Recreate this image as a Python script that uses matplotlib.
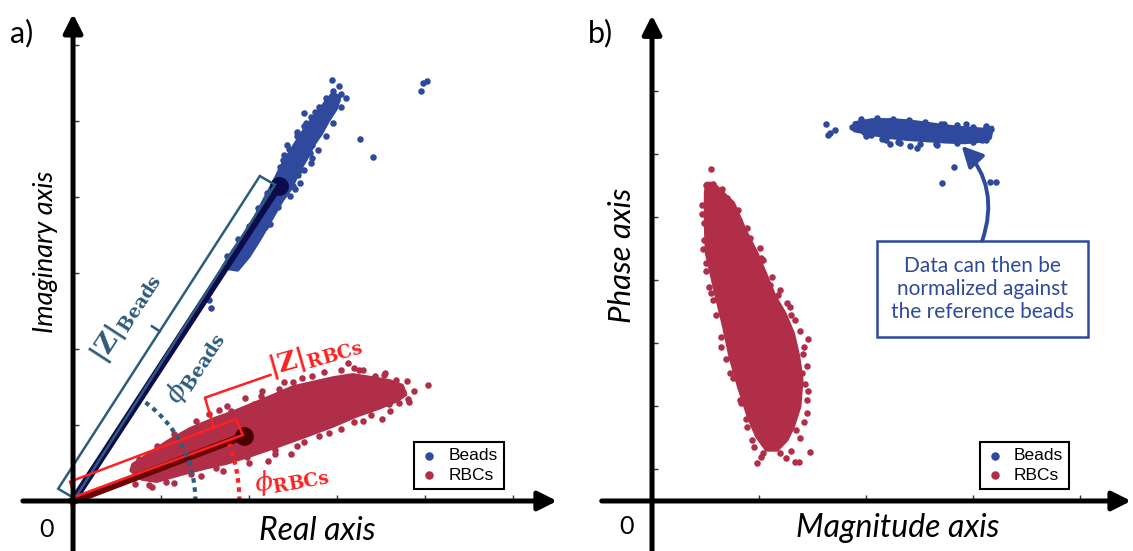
import numpy as np
import matplotlib
matplotlib.use('Agg')
import matplotlib.pyplot as plt
from matplotlib.patches import Polygon, Rectangle

# 颜色
BLUE = '#2F4A9C'
RED = '#B02E48'
NAVY = '#0B0B4E'
MAROON = '#6A0606'
TEAL = '#2D5C7C'
BRIGHT = '#FF2020'

# ---------------- a) 复平面 ----------------
# Beads 密集带轮廓
a_bead_core_x = [1.70, 1.82, 1.97, 2.08, 2.17, 2.29, 2.37, 2.44, 2.53, 2.62, 2.71, 2.79, 2.87, 2.95,
                 3.03, 2.99, 2.90, 2.82, 2.74, 2.65, 2.56, 2.48, 2.38, 2.26, 2.13, 2.00, 1.87]
a_bead_core_y = [3.07, 3.30, 3.54, 3.76, 3.96, 4.22, 4.41, 4.54, 4.71, 4.87, 5.01, 5.12, 5.25, 5.36,
                 5.32, 5.16, 5.00, 4.83, 4.70, 4.50, 4.32, 4.12, 3.96, 3.72, 3.46, 3.22, 3.04]
# Beads 散点
a_bead_x = [2.94, 3.02, 3.05, 3.00, 2.90, 2.62, 2.81, 2.73, 2.84, 2.75, 2.43, 2.71, 2.69, 2.71, 2.39,
            2.58, 2.56, 2.49, 2.58, 2.52, 2.47, 2.33, 2.24, 2.18, 1.97, 1.84, 3.26, 3.41, 3.98, 4.02,
            3.96, 2.32, 2.09, 2.16, 1.54, 1.57, 1.94, 2.16, 2.22, 1.96, 2.95, 2.88, 2.80, 2.70, 2.62,
            2.55, 2.47, 2.40, 2.35, 2.45, 2.55, 2.65, 2.75, 2.50, 2.62, 2.70, 2.78, 2.88, 2.95, 3.05,
            3.10, 1.75, 1.88, 2.00, 2.10, 2.20]
a_bead_y = [5.54, 5.46, 5.36, 5.28, 5.23, 5.10, 5.10, 5.02, 4.95, 4.88, 4.68, 4.68, 4.58, 4.51, 4.49,
            4.36, 4.29, 4.27, 4.18, 4.11, 4.01, 3.87, 3.65, 3.61, 3.35, 3.24, 4.76, 4.52, 5.50, 5.52,
            5.39, 3.92, 3.74, 3.81, 2.65, 2.54, 3.34, 3.64, 3.65, 3.39, 5.40, 5.30, 5.18, 5.05, 4.93,
            4.80, 4.62, 4.55, 4.40, 4.63, 4.85, 4.98, 5.12, 4.15, 4.35, 4.45, 4.62, 4.80, 4.98, 5.18,
            5.30, 3.22, 3.45, 3.62, 3.85, 4.05]
# RBCs 密集区轮廓
a_rbc_core_x = [0.66, 0.78, 0.95, 1.22, 1.52, 1.75, 2.05, 2.35, 2.66, 2.96, 3.22, 3.47, 3.68, 3.78,
                3.74, 3.60, 3.40, 3.18, 2.96, 2.73, 2.50, 2.28, 2.05, 1.82, 1.60, 1.33, 1.07, 0.84, 0.68]
a_rbc_core_y = [0.40, 0.29, 0.26, 0.35, 0.44, 0.50, 0.61, 0.73, 0.86, 0.99, 1.12, 1.22, 1.32, 1.40,
                1.52, 1.58, 1.62, 1.66, 1.62, 1.56, 1.50, 1.39, 1.28, 1.17, 1.08, 0.95, 0.78, 0.60, 0.48]
# RBCs 散点
a_rbc_x = [3.13, 3.25, 4.03, 3.81, 3.71, 3.75, 3.67, 3.53, 3.43, 2.99, 2.81, 2.71, 2.50, 2.34, 2.24,
           2.06, 1.80, 1.66, 1.42, 1.26, 1.10, 0.90, 0.76, 0.68, 0.86, 1.06, 1.34, 1.62, 1.98, 2.30,
           2.63, 2.91, 3.19, 3.39, 3.59, 3.19, 3.35, 2.93, 2.69, 2.46, 2.14, 2.48, 2.22, 3.51,
           0.75, 0.95, 1.15, 1.40, 1.55, 1.75, 1.95, 2.15, 2.40, 2.60, 2.85, 3.05, 3.30, 3.55, 3.80,
           3.88, 0.70, 0.90, 1.15, 1.45, 1.70, 2.00, 2.30, 2.55, 2.80, 3.05, 3.30, 3.60, 3.82]
a_rbc_y = [1.82, 1.73, 1.52, 1.34, 1.29, 1.43, 1.59, 1.66, 1.64, 1.61, 1.57, 1.64, 1.57, 1.48, 1.34,
           1.27, 1.18, 1.20, 0.95, 0.81, 0.69, 0.53, 0.42, 0.30, 0.21, 0.25, 0.35, 0.44, 0.58, 0.67,
           0.78, 0.90, 1.04, 1.13, 1.27, 1.75, 1.54, 1.52, 1.43, 1.45, 1.38, 0.62, 0.53, 1.08,
           0.55, 0.72, 0.88, 1.05, 1.15, 1.25, 1.36, 1.45, 1.56, 1.62, 1.70, 1.73, 1.72, 1.68, 1.58,
           1.45, 0.22, 0.18, 0.24, 0.33, 0.40, 0.50, 0.62, 0.72, 0.85, 0.95, 1.05, 1.18, 1.30]

# 均值点
bead_mean = (2.34, 4.15)
rbc_mean = (1.94, 0.855)

# |Z| 矩形框及括号
bead_box_x = [-0.169, 0.020, 2.295, 2.123]
bead_box_y = [0.161, 0.032, 4.161, 4.276]
bead_tick_x = [0.985, 0.896]
bead_tick_y = [2.233, 2.300]
rbc_box_x = [-0.034, 0.023, 1.928, 1.852]
rbc_box_y = [0.254, 0.057, 0.868, 1.079]
rbc_tick_x = [1.600, 1.499, 2.243]
rbc_tick_y = [0.968, 1.359, 1.659]

# 相位角圆弧 (半径以 x 单位计, 角度单位 度)
bead_arc_r, bead_arc_deg = 1.39, 55
rbc_arc_r, rbc_arc_deg = 1.89, 20

# ---------------- b) 幅值-相位 ----------------
b_bead_core_x = [1.89, 2.06, 2.23, 2.40, 2.58, 2.75, 2.92, 3.09, 3.18,
                 3.16, 3.06, 2.92, 2.75, 2.58, 2.40, 2.23, 2.06, 1.89]
b_bead_core_y = [6.00, 6.05, 6.05, 6.03, 5.99, 5.95, 5.92, 5.90, 5.93,
                 5.76, 5.71, 5.69, 5.70, 5.72, 5.74, 5.77, 5.82, 5.88]
b_bead_x = [1.63, 1.71, 1.64, 1.66, 1.87, 1.98, 2.05, 2.19, 2.22, 2.32, 2.41, 2.48, 2.66, 2.73, 2.93,
            3.17, 3.08, 2.97, 2.82, 2.71, 3.16, 3.21, 1.94, 2.13, 2.32, 2.44, 2.57, 2.75, 2.88, 3.00,
            3.07, 1.95, 2.10, 2.25, 2.40, 2.55, 2.70, 2.85, 3.00, 3.12, 2.00, 2.15, 2.30, 2.50, 2.65,
            2.85, 3.00, 3.12]
b_bead_y = [5.98, 5.89, 5.81, 5.84, 5.94, 5.86, 5.81, 5.73, 5.67, 5.69, 5.64, 5.61, 5.65, 5.98, 5.98,
            5.90, 5.73, 5.78, 5.30, 5.04, 5.07, 5.07, 5.95, 5.97, 5.95, 5.86, 5.84, 5.78, 5.76, 5.81,
            5.84, 6.07, 6.08, 6.07, 6.05, 6.02, 5.98, 5.96, 5.93, 5.95, 5.80, 5.74, 5.70, 5.66, 5.67,
            5.68, 5.70, 5.73]
b_rbc_core_x = [0.51, 0.50, 0.50, 0.51, 0.56, 0.61, 0.67, 0.73, 0.81, 0.90, 0.98, 1.07, 1.17,
                1.26, 1.32, 1.38, 1.40, 1.37, 1.32, 1.24, 1.15, 1.06, 0.98, 0.87, 0.76, 0.57]
b_rbc_core_y = [5.04, 4.88, 4.35, 3.93, 3.56, 3.19, 2.77, 2.29, 1.81, 1.34, 1.02, 0.81, 0.81,
                0.97, 1.18, 1.50, 1.92, 2.29, 2.66, 2.98, 3.24, 3.61, 3.93, 4.30, 4.73, 5.04]
b_rbc_x = [0.55, 0.50, 0.57, 0.49, 0.49, 0.50, 0.70, 0.81, 0.89, 1.01, 1.04, 1.10, 1.18, 1.26, 1.29,
           1.34, 1.46, 1.41, 1.40, 1.46, 1.45, 1.35, 1.48, 1.34, 1.37, 0.98, 1.04, 1.20, 0.93, 0.89,
           0.82, 0.73, 0.64, 0.57, 0.53, 1.29, 1.32, 1.23, 1.10,
           0.47, 0.47, 0.48, 0.50, 0.55, 0.60, 0.64, 0.69, 0.76, 0.83, 0.88, 0.95, 1.02,
           0.65, 0.80, 0.92, 1.02, 1.12, 1.20, 1.30, 1.38, 1.42, 1.45, 1.43, 1.45, 1.42, 1.38, 1.30, 1.25]
b_rbc_y = [5.27, 5.02, 5.03, 4.41, 4.14, 3.77, 4.81, 4.46, 4.33, 4.01, 3.83, 3.43, 3.27, 3.14, 3.08,
           2.87, 2.57, 2.34, 2.03, 1.74, 1.39, 1.13, 0.78, 0.62, 0.62, 0.61, 0.76, 0.76, 0.97, 1.18,
           1.60, 2.03, 2.45, 3.19, 3.40, 2.03, 1.71, 1.29, 0.97,
           4.70, 4.55, 4.00, 3.65, 3.30, 2.95, 2.60, 2.25, 1.95, 1.55, 1.30, 0.85, 0.70,
           4.95, 4.62, 4.18, 3.85, 3.55, 3.35, 2.95, 2.70, 2.45, 2.15, 1.85, 1.60, 1.25, 1.00, 0.80, 0.68]

# 注释框 (x0, y0, x1, y1) 及箭头
note_box = (2.10, 2.60, 4.07, 4.13)
note_arrow_start = (3.086, 4.13)
note_arrow_end = (2.893, 5.638)
note_text = 'Data can then be\nnormalized against\nthe reference beads'

plt.rcParams['font.family'] = ['Lato', 'DejaVu Sans']
plt.rcParams['mathtext.fontset'] = 'dejavuserif'

fig = plt.figure(figsize=(11.33, 5.51), dpi=100)
ax_a = fig.add_axes([0, 0, 560 / 1133, 1])
ax_b = fig.add_axes([560 / 1133, 0, 573 / 1133, 1])

ax_a.set_xlim(-0.830, 5.534)
ax_a.set_ylim(-0.658, 6.592)
ax_b.set_xlim(-0.860, 4.495)
ax_b.set_ylim(-0.794, 7.952)


def setup_axis(ax, xticks, yticks, xend, yend):
    for s in ax.spines.values():
        s.set_visible(False)
    ax.spines['left'].set_position(('data', 0))
    ax.spines['bottom'].set_position(('data', 0))
    ax.set_xticks(xticks)
    ax.set_yticks(yticks)
    ax.set_xticklabels([])
    ax.set_yticklabels([])
    ax.tick_params(direction='in', length=4, width=1, color='#333333')
    ax.patch.set_alpha(0)
    arrow = dict(arrowstyle='-|>,head_length=0.75,head_width=0.38', lw=3.6, color='black',
                 shrinkA=0, shrinkB=0, mutation_scale=15)
    ax.annotate('', xy=(xend[1], 0), xytext=(xend[0], 0), arrowprops=arrow,
                annotation_clip=False, zorder=6)
    ax.annotate('', xy=(0, yend[1]), xytext=(0, yend[0]), arrowprops=arrow,
                annotation_clip=False, zorder=6)


setup_axis(ax_a, [1, 2, 3, 4, 5], [1, 2, 3, 4, 5, 6], (-0.57, 5.50), (-0.9, 6.41))
setup_axis(ax_b, [1, 2, 3, 4], [0.5, 1.5, 2.5, 3.5, 4.5, 5.5, 6.5], (-0.47, 4.477), (-0.9, 7.71))

dot = 22


def cloud(ax, core_x, core_y, xs, ys, color, label):
    ax.add_patch(Polygon(np.column_stack([core_x, core_y]), closed=True,
                         fc=color, ec=color, lw=2.5, joinstyle='round', zorder=2))
    ax.scatter(xs, ys, s=dot, color=color, lw=0, zorder=2, label=label)


# ---- a) ----
cloud(ax_a, a_bead_core_x, a_bead_core_y, a_bead_x, a_bead_y, BLUE, 'Beads')
cloud(ax_a, a_rbc_core_x, a_rbc_core_y, a_rbc_x, a_rbc_y, RED, 'RBCs')

ax_a.plot([0, bead_mean[0]], [0, bead_mean[1]], color=NAVY, lw=5.5, zorder=3)
ax_a.plot(*bead_mean, 'o', ms=12.5, color=NAVY, zorder=3)
ax_a.plot([0, rbc_mean[0]], [0, rbc_mean[1]], color=MAROON, lw=5.5, zorder=3)
ax_a.plot(*rbc_mean, 'o', ms=12.5, color='#4A0000', zorder=3)

ax_a.add_patch(Polygon(np.column_stack([bead_box_x, bead_box_y]), closed=True,
                       fill=False, ec=TEAL, lw=1.8, zorder=4))
ax_a.plot(bead_tick_x, bead_tick_y, color=TEAL, lw=1.8, zorder=4)
ax_a.add_patch(Polygon(np.column_stack([rbc_box_x, rbc_box_y]), closed=True,
                       fill=False, ec=BRIGHT, lw=1.8, zorder=4))
ax_a.plot(rbc_tick_x, rbc_tick_y, color=BRIGHT, lw=1.8, zorder=4)

# 圆弧: 像素空间中为圆
p0 = ax_a.transData.transform((0, 0))
kx = ax_a.transData.transform((1, 0))[0] - p0[0]
ky = ax_a.transData.transform((0, 1))[1] - p0[1]
for r, deg, c in [(bead_arc_r, bead_arc_deg, TEAL), (rbc_arc_r, rbc_arc_deg, BRIGHT)]:
    t = np.radians(np.linspace(0, deg, 80))
    ax_a.plot(r * np.cos(t), r * kx / ky * np.sin(t), color=c, lw=3,
              dashes=(1.1, 1.1), zorder=4)

lab = dict(fontsize=19, ha='center', va='center', rotation_mode='anchor', zorder=5)
ax_a.text(0.595, 2.42, r'$\mathbf{|Z|}_{\mathbf{Beads}}$', color=TEAL, rotation=57, **lab)
ax_a.text(1.38, 1.77, r'$\phi_{\mathbf{Beads}}$', color=TEAL, rotation=57, **lab)
ax_a.text(2.75, 1.91, r'$\mathbf{|Z|}_{\mathbf{RBCs}}$', color=BRIGHT, rotation=16, **lab)
ax_a.text(2.48, 0.30, r'$\phi_{\mathbf{RBCs}}$', color=BRIGHT, rotation=10, **lab)

ax_a.text(-0.30, -0.37, '0', fontsize=18, ha='center', va='center')
ax_a.text(2.78, -0.40, 'Real axis', fontsize=23, style='italic', ha='center', va='center')
ax_a.text(-0.31, 3.28, 'Imaginary axis', fontsize=19.5, style='italic', rotation=90,
          ha='center', va='center')
ax_a.text(0.038, 0.94, 'a)', transform=ax_a.transAxes, fontsize=22, ha='center', va='center')

# ---- b) ----
cloud(ax_b, b_bead_core_x, b_bead_core_y, b_bead_x, b_bead_y, BLUE, 'Beads')
cloud(ax_b, b_rbc_core_x, b_rbc_core_y, b_rbc_x, b_rbc_y, RED, 'RBCs')

bx0, by0, bx1, by1 = note_box
ax_b.add_patch(Rectangle((bx0, by0), bx1 - bx0, by1 - by0, fill=False, ec=BLUE, lw=1.8, zorder=4))
ax_b.text((bx0 + bx1) / 2, (by0 + by1) / 2, note_text, color=BLUE, fontsize=15,
          ha='center', va='center', linespacing=1.2, zorder=5)
ax_b.annotate('', xy=note_arrow_end, xytext=note_arrow_start,
              arrowprops=dict(arrowstyle='-|>,head_length=0.9,head_width=0.45', lw=2.8,
                              color=BLUE, shrinkA=0, shrinkB=0, mutation_scale=14,
                              connectionstyle='arc3,rad=0.3'), zorder=5)

ax_b.text(-0.24, -0.41, '0', fontsize=18, ha='center', va='center')
ax_b.text(2.30, -0.43, 'Magnitude axis', fontsize=23, style='italic', ha='center', va='center')
ax_b.text(-0.28, 3.90, 'Phase axis', fontsize=22.5, style='italic', rotation=90,
          ha='center', va='center')
ax_b.text(0.07, 0.94, 'b)', transform=ax_b.transAxes, fontsize=22, ha='center', va='center')

for ax, x0 in [(ax_a, 0.740), (ax_b, 0.733)]:
    leg = ax.legend(loc='lower left', bbox_to_anchor=(x0, 0.113), borderaxespad=0,
                    prop={'family': 'Liberation Sans', 'size': 12.5}, fancybox=False,
                    framealpha=1, edgecolor='black', scatterpoints=1, markerscale=1.3,
                    handlelength=1.0, handletextpad=0.6, labelspacing=0.25, borderpad=0.35)
    leg.get_frame().set_linewidth(1.5)
    leg.set_zorder(7)

plt.savefig('out.png', dpi=100)
